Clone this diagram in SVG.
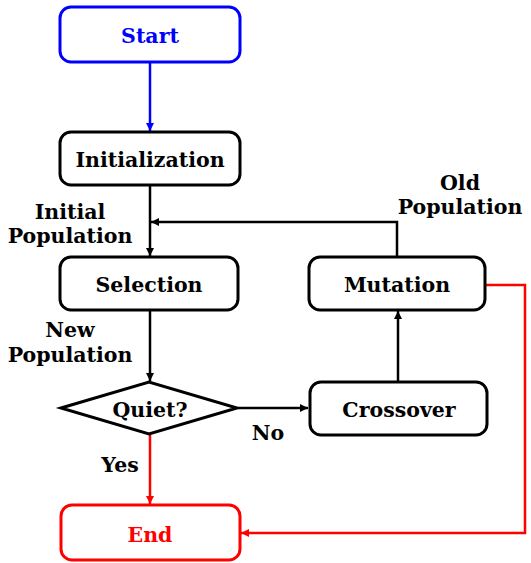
<svg xmlns="http://www.w3.org/2000/svg" width="531" height="563" viewBox="0 0 531 563">
<style>
text{font-family:"DejaVu Serif","Liberation Serif",serif;font-weight:bold;font-size:20.5px;text-anchor:middle}
.box{fill:#fff;stroke:#000;stroke-width:3}
.ln{fill:none;stroke:#000;stroke-width:2.5}
.blue{stroke:#0000ff}
.red{stroke:#ff0000}
.lbl{font-size:20.5px}
</style>
<defs>
<marker id="ak" markerWidth="10" markerHeight="10" refX="8" refY="4" orient="auto" markerUnits="userSpaceOnUse"><path d="M0,0 L8,4 L0,8 Z" fill="#000"/></marker>
<marker id="ab" markerWidth="10" markerHeight="10" refX="8" refY="4" orient="auto" markerUnits="userSpaceOnUse"><path d="M0,0 L8,4 L0,8 Z" fill="#0000ff"/></marker>
<marker id="ar" markerWidth="10" markerHeight="10" refX="8" refY="4" orient="auto" markerUnits="userSpaceOnUse"><path d="M0,0 L8,4 L0,8 Z" fill="#ff0000"/></marker>
</defs>
<g id="connectors">
<path class="ln blue" d="M150,62 V131" marker-end="url(#ab)"/>
<path class="ln" d="M150,185 V256" marker-end="url(#ak)"/>
<path class="ln" d="M397,257 V222 H151" marker-end="url(#ak)"/>
<path class="ln" d="M150,310 V381" marker-end="url(#ak)"/>
<path class="ln" d="M238,408 H308" marker-end="url(#ak)"/>
<path class="ln" d="M398,382 V311" marker-end="url(#ak)"/>
<path class="ln red" d="M150,435 V504" marker-end="url(#ar)"/>
<path class="ln red" d="M486,285 H525 V533 H241" marker-end="url(#ar)"/>
</g>
<g id="start"><rect class="box blue" x="60" y="7" width="180" height="55" rx="11"/><text x="150" y="43" fill="#0000ff">Start</text></g>
<g id="init"><rect class="box" x="60" y="132" width="180" height="53" rx="11"/><text x="150" y="167">Initialization</text></g>
<g id="selection"><rect class="box" x="60" y="257" width="178" height="53" rx="11"/><text x="149" y="292">Selection</text></g>
<g id="mutation"><rect class="box" x="309" y="257" width="176" height="53" rx="11"/><text x="397" y="292">Mutation</text></g>
<g id="quiet"><path class="box" d="M61,408 L149,382 L237,408 L149,434 Z"/><text x="150" y="417">Quiet?</text></g>
<g id="crossover"><rect class="box" x="310" y="382" width="177" height="53" rx="11"/><text x="399" y="417">Crossover</text></g>
<g id="end"><rect class="box red" x="61" y="505" width="179" height="55" rx="11"/><text x="150" y="542" fill="#ff0000">End</text></g>
<g id="labels">
<text class="lbl" x="70" y="219">Initial</text>
<text class="lbl" x="70" y="243">Population</text>
<text class="lbl" x="70" y="337">New</text>
<text class="lbl" x="70" y="362">Population</text>
<text class="lbl" x="460" y="190">Old</text>
<text class="lbl" x="460" y="214">Population</text>
<text class="lbl" x="268" y="440">No</text>
<text class="lbl" x="120" y="472">Yes</text>
</g>
</svg>
